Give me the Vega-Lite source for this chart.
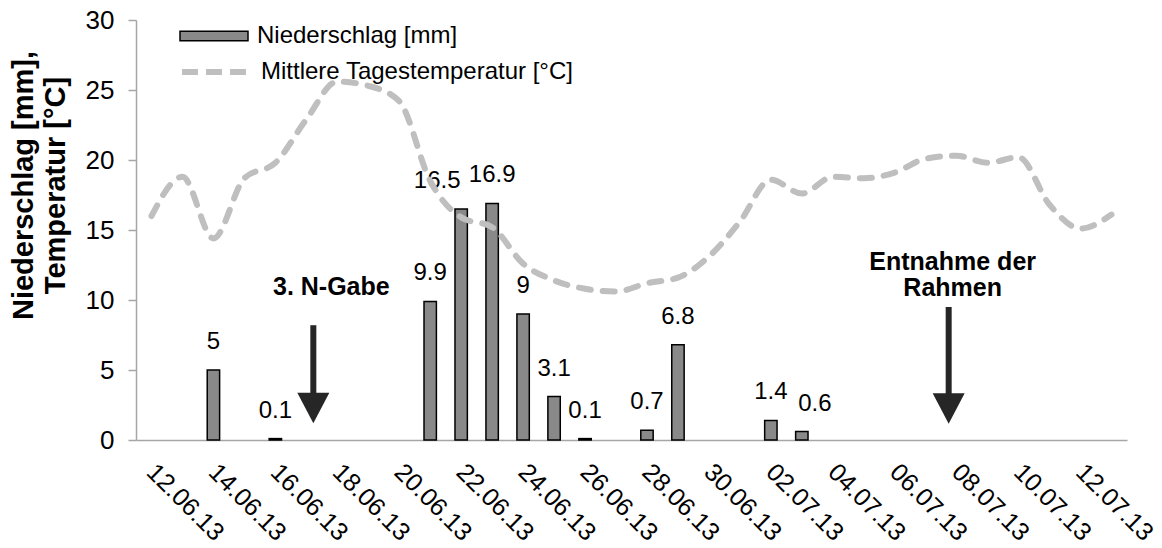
{
  "$schema": "https://vega.github.io/schema/vega-lite/v6.json",
  "width": 991,
  "height": 420,
  "autosize": {"type": "none"},
  "padding": {"left": 136, "top": 20, "right": 35, "bottom": 108},
  "background": "white",
  "config": {
    "view": {"stroke": null},
    "font": "Liberation Sans",
    "axis": {"grid": false, "labelFont": "Liberation Sans", "titleFont": "Liberation Sans", "labelColor": "black", "titleColor": "black"},
    "axisY": {
      "tickColor": "#a6a6a6",
      "tickSize": 8,
      "tickWidth": 1.5,
      "domainColor": "#a6a6a6",
      "domainWidth": 1.5,
      "labelFontSize": 26,
      "labelPadding": 14,
      "titleFontSize": 29,
      "titleFontWeight": "bold",
      "titleLineHeight": 32,
      "titleBaseline": "top",
      "titleX": -127,
      "titleY": 165
    },
    "legend": {"labelFont": "Liberation Sans", "labelColor": "black", "labelLimit": 0}
  },
  "datasets": {
    "temp": [
      {"date": "12.06.13", "temp": 16.0},
      {"date": "13.06.13", "temp": 18.8},
      {"date": "14.06.13", "temp": 14.4},
      {"date": "15.06.13", "temp": 18.7},
      {"date": "16.06.13", "temp": 19.8},
      {"date": "17.06.13", "temp": 22.9},
      {"date": "18.06.13", "temp": 25.6},
      {"date": "19.06.13", "temp": 25.3},
      {"date": "20.06.13", "temp": 24.2},
      {"date": "21.06.13", "temp": 18.5},
      {"date": "22.06.13", "temp": 15.9},
      {"date": "23.06.13", "temp": 15.2},
      {"date": "24.06.13", "temp": 12.6},
      {"date": "25.06.13", "temp": 11.4},
      {"date": "26.06.13", "temp": 10.8},
      {"date": "27.06.13", "temp": 10.6},
      {"date": "28.06.13", "temp": 11.2},
      {"date": "29.06.13", "temp": 11.6},
      {"date": "30.06.13", "temp": 13.1},
      {"date": "01.07.13", "temp": 15.6},
      {"date": "02.07.13", "temp": 18.6},
      {"date": "03.07.13", "temp": 17.6},
      {"date": "04.07.13", "temp": 18.8},
      {"date": "05.07.13", "temp": 18.7},
      {"date": "06.07.13", "temp": 19.1},
      {"date": "07.07.13", "temp": 20.1},
      {"date": "08.07.13", "temp": 20.3},
      {"date": "09.07.13", "temp": 19.8},
      {"date": "10.07.13", "temp": 20.2},
      {"date": "11.07.13", "temp": 16.8},
      {"date": "12.07.13", "temp": 15.1},
      {"date": "13.07.13", "temp": 16.1}
    ],
    "rain": [
      {"date": "14.06.13", "mm": 5},
      {"date": "16.06.13", "mm": 0.1},
      {"date": "21.06.13", "mm": 9.9},
      {"date": "22.06.13", "mm": 16.5},
      {"date": "23.06.13", "mm": 16.9},
      {"date": "24.06.13", "mm": 9},
      {"date": "25.06.13", "mm": 3.1},
      {"date": "26.06.13", "mm": 0.1},
      {"date": "28.06.13", "mm": 0.7},
      {"date": "29.06.13", "mm": 6.8},
      {"date": "02.07.13", "mm": 1.4},
      {"date": "03.07.13", "mm": 0.6}
    ],
    "arrows": [
      {"date": "17.06.13", "top": 8.2, "bottom": 3.0, "head": 2.29, "textY": 10.93, "label": ["3. N-Gabe"]},
      {"date": "08.07.13", "top": 9.5, "bottom": 3.0, "head": 2.25, "textY": 12.68, "label": ["Entnahme der", "Rahmen"]}
    ]
  },
  "encoding": {
    "x": {
      "field": "date",
      "type": "ordinal",
      "sort": null,
      "scale": {
        "domain": ["12.06.13","13.06.13","14.06.13","15.06.13","16.06.13","17.06.13","18.06.13","19.06.13","20.06.13","21.06.13","22.06.13","23.06.13","24.06.13","25.06.13","26.06.13","27.06.13","28.06.13","29.06.13","30.06.13","01.07.13","02.07.13","03.07.13","04.07.13","05.07.13","06.07.13","07.07.13","08.07.13","09.07.13","10.07.13","11.07.13","12.07.13","13.07.13"],
        "paddingInner": 0.6,
        "paddingOuter": 0.3
      },
      "axis": {
        "title": null,
        "values": ["12.06.13","14.06.13","16.06.13","18.06.13","20.06.13","22.06.13","24.06.13","26.06.13","28.06.13","30.06.13","02.07.13","04.07.13","06.07.13","08.07.13","10.07.13","12.07.13"],
        "labelAngle": 45,
        "labelAlign": "left",
        "labelBaseline": "top",
        "labelFontSize": 25,
        "labelPadding": 19,
        "labelOffset": 8,
        "ticks": false,
        "domainColor": "#a6a6a6",
        "domainWidth": 1.5
      }
    }
  },
  "layer": [
    {
      "data": {"name": "rain"},
      "mark": {"type": "bar", "stroke": "black", "strokeWidth": 1.5},
      "encoding": {
        "y": {
          "field": "mm",
          "type": "quantitative",
          "scale": {"domain": [0, 30], "nice": false},
          "axis": {"title": ["Niederschlag [mm],", "Temperatur [°C]"], "values": [0, 5, 10, 15, 20, 25, 30]}
        },
        "fill": {
          "datum": "Niederschlag [mm]",
          "type": "nominal",
          "scale": {"range": ["#898989"]},
          "legend": {
            "orient": "none",
            "legendX": 43,
            "legendY": -19,
            "title": null,
            "padding": 0,
            "symbolType": "M-1,-0.14L1,-0.14L1,0.14L-1,0.14Z",
            "symbolSize": 4624,
            "symbolStrokeColor": "black",
            "symbolStrokeWidth": 1.5,
            "labelFontSize": 24,
            "labelOffset": 8
          }
        }
      }
    },
    {
      "data": {"name": "rain"},
      "mark": {"type": "text", "fontSize": 24, "baseline": "alphabetic", "dy": -21, "color": "black", "dx": {"expr": "datum.mm == 16.5 ? -24 : datum.mm == 0.6 ? 13 : 0"}},
      "encoding": {
        "y": {"field": "mm", "type": "quantitative", "axis": {"title": ["Niederschlag [mm],", "Temperatur [°C]"], "values": [0, 5, 10, 15, 20, 25, 30]}},
        "text": {"field": "mm", "type": "quantitative", "format": "~g"}
      }
    },
    {
      "data": {"name": "temp"},
      "mark": {"type": "line", "interpolate": "monotone", "strokeWidth": 6, "strokeDash": [12, 12], "strokeCap": "round"},
      "encoding": {
        "y": {"field": "temp", "type": "quantitative", "axis": {"title": ["Niederschlag [mm],", "Temperatur [°C]"], "values": [0, 5, 10, 15, 20, 25, 30]}},
        "stroke": {
          "datum": "Mittlere Tagestemperatur [°C]",
          "type": "nominal",
          "scale": {"range": ["#bfbfbf"]},
          "legend": {
            "orient": "none",
            "legendX": 43,
            "legendY": 15,
            "title": null,
            "padding": 0,
            "symbolType": "stroke",
            "symbolSize": 4624,
            "symbolStrokeWidth": 6,
            "symbolDash": [16, 8],
            "labelFontSize": 24,
            "labelOffset": 8
          }
        }
      }
    },
    {
      "data": {"name": "arrows"},
      "mark": {"type": "rule", "strokeWidth": 6, "color": "#262626", "xOffset": {"expr": "datum.date == '17.06.13' ? 7 : -8"}},
      "encoding": {
        "y": {"field": "top", "type": "quantitative", "axis": {"title": ["Niederschlag [mm],", "Temperatur [°C]"], "values": [0, 5, 10, 15, 20, 25, 30]}},
        "y2": {"field": "bottom"}
      }
    },
    {
      "data": {"name": "arrows"},
      "mark": {"type": "point", "shape": "M-1,-0.95L1,-0.95L0,0.95Z", "size": 1024, "filled": true, "opacity": 1, "color": "#262626", "xOffset": {"expr": "datum.date == '17.06.13' ? 7 : -8"}},
      "encoding": {
        "y": {"field": "head", "type": "quantitative", "axis": {"title": ["Niederschlag [mm],", "Temperatur [°C]"], "values": [0, 5, 10, 15, 20, 25, 30]}}
      }
    },
    {
      "data": {"name": "arrows"},
      "mark": {"type": "text", "fontSize": 25, "fontWeight": "bold", "baseline": "middle", "lineHeight": 26, "color": "black", "dx": {"expr": "datum.date == '17.06.13' ? 25 : -4"}},
      "encoding": {
        "y": {"field": "textY", "type": "quantitative", "axis": {"title": ["Niederschlag [mm],", "Temperatur [°C]"], "values": [0, 5, 10, 15, 20, 25, 30]}},
        "text": {"field": "label"}
      }
    }
  ]
}
